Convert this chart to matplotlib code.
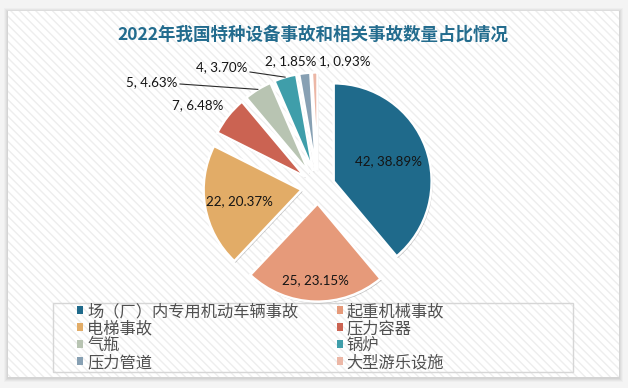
import matplotlib
matplotlib.use('Agg')
import matplotlib.pyplot as plt
import numpy as np
from matplotlib.patches import Rectangle, Patch
import matplotlib.patheffects as pe

# ---------------- data ----------------
categories = ['场（厂）内专用机动车辆事故', '起重机械事故', '电梯事故', '压力容器',
              '气瓶', '锅炉', '压力管道', '大型游乐设施']
counts = [42, 25, 22, 7, 5, 4, 2, 1]
colors = ['#1F6A8B', '#E69A7A', '#E2AC67', '#CB6352',
          '#B8C4B2', '#3F9EAA', '#87A0B3', '#ECB7A6']
title = '2022年我国特种设备事故和相关事故数量占比情况'

# ---------------- layout ----------------
W, H, DPI = 628, 388, 100
CX, CY, R = 318.0, 187.0, 98.0          # pie centre / radius in pixels (y from top)
EXPLODE = 0.17
inside_dist = {0: 0.77, 1: 0.95, 2: 0.81}  # label distance (radius units) for big slices
outside_px = {3: (197.5, 105), 4: (152, 82), 5: (222, 67), 6: (291, 61), 7: (345, 61)}
leader_start_px = {4: (180, 84), 5: (250, 72)}

plt.rcParams['font.family'] = ['Noto Sans CJK SC', 'DejaVu Sans']

fig = plt.figure(figsize=(W / DPI, H / DPI), dpi=DPI, facecolor='#f4f4f4')

# background axes in pixel coordinates
bg = fig.add_axes([0, 0, 1, 1], zorder=0)
bg.set_xlim(0, W)
bg.set_ylim(H, 0)
bg.axis('off')
# soft shadow around the panel
for i, a in enumerate([0.025, 0.03, 0.035, 0.04]):
    d = 4 - i
    bg.add_patch(Rectangle((8 - d, 11 - d + 1), 611 + 2 * d, 366 + 2 * d,
                           facecolor='black', alpha=a, linewidth=0))
bg.add_patch(Rectangle((8, 11), 611, 366, facecolor='white', linewidth=0))
bg.add_patch(Rectangle((8, 11), 611, 366, facecolor='none', edgecolor='#eeeeee',
                       hatch='\\\\\\\\', linewidth=0))
# legend frame
bg.add_patch(Rectangle((53, 303), 520, 69, facecolor='none', edgecolor='#d6d6d6', linewidth=1))

# title
bg.text(313, 35, title, ha='center', va='center', fontsize=12.6, fontweight='bold',
        color='#236C8E', family=['Noto Sans CJK SC', 'DejaVu Sans'])

# pie axes
ax = fig.add_axes([0, 0, 1, 1], zorder=1)
ax.patch.set_alpha(0)
wedges, _ = ax.pie(counts, colors=colors, startangle=90, counterclock=False,
                   explode=[EXPLODE] * len(counts), radius=1,
                   wedgeprops=dict(edgecolor='white', linewidth=1.8))
for w in wedges:
    w.set_path_effects([pe.SimplePatchShadow(offset=(0.8, -1.2), shadow_rgbFace='black', alpha=0.22),
                        pe.Normal()])
ax.set_xlim(-CX / R, (W - CX) / R)
ax.set_ylim(-(H - CY) / R, CY / R)
ax.set_aspect('equal', adjustable='datalim')
ax.axis('off')


def px_to_data(x, y):
    return (x - CX) / R, (CY - y) / R


total = sum(counts)
lab_font = dict(fontsize=9.6, color='#141414', family=['Lato', 'DejaVu Sans'])
for i, (w, v) in enumerate(zip(wedges, counts)):
    txt = f'{v}, {v / total * 100:.2f}%'
    theta = np.deg2rad((w.theta1 + w.theta2) / 2)
    if i in inside_dist:
        d = inside_dist[i]
        ax.text(d * np.cos(theta), d * np.sin(theta), txt, ha='center', va='center', **lab_font)
    else:
        tx, ty = px_to_data(*outside_px[i])
        ax.text(tx, ty, txt, ha='center', va='center', **lab_font)
        if i in leader_start_px:
            sx, sy = px_to_data(*leader_start_px[i])
            rr = 1 + EXPLODE
            ax.plot([sx, rr * np.cos(theta)], [sy, rr * np.sin(theta)],
                    color='#2b2b2b', linewidth=0.8)

# legend (row-major order, two columns)
handles = [Patch(facecolor=c, edgecolor='none') for c in colors]
order = [0, 2, 4, 6, 1, 3, 5, 7]
fs = 11.7
leg = fig.legend([handles[i] for i in order], [categories[i] for i in order],
                 ncol=2, loc='upper left', bbox_to_anchor=(77 / W, 1 - 303 / H),
                 frameon=False, fontsize=fs, borderpad=0, borderaxespad=0,
                 handlelength=0.37, handleheight=0.37, handletextpad=0.25,
                 columnspacing=2.35, labelspacing=0.0)
for t in leg.get_texts():
    t.set_color('#505050')
    t.set_fontweight('medium')

fig.savefig('out.png', dpi=DPI, facecolor=fig.get_facecolor())
